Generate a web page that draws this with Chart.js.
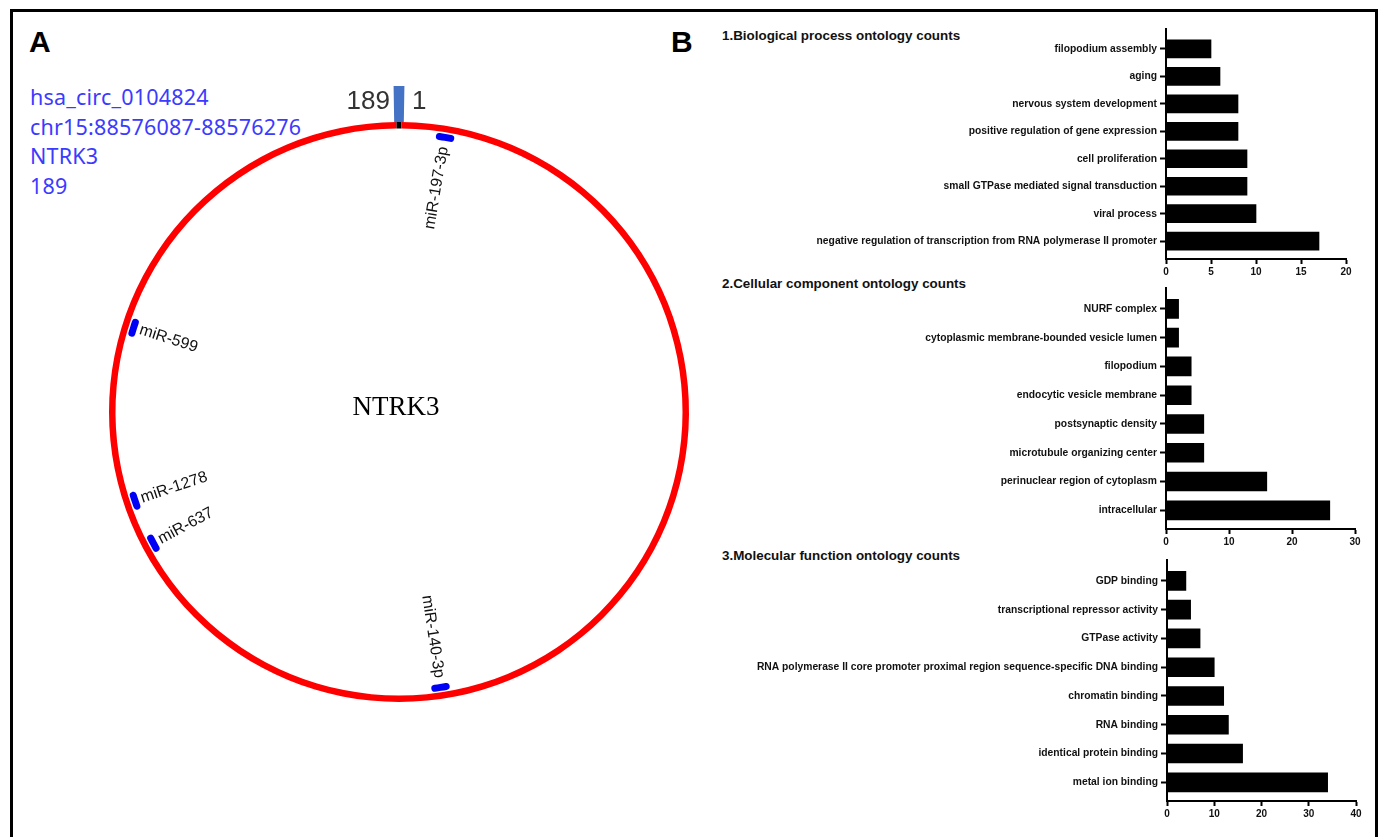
<!DOCTYPE html>
<html>
<head>
<meta charset="utf-8">
<script src="https://cdn.jsdelivr.net/npm/chart.js@4.4.1/dist/chart.umd.min.js"></script>
<style>
  html, body { margin: 0; padding: 0; background: #fff; }
  body { width: 1385px; height: 837px; position: relative; overflow: hidden;
         font-family: "Liberation Sans", Arial, sans-serif; }
  .frame { position: absolute; left: 10px; top: 9px; width: 1362px; height: 900px;
           border: 3px solid #000; }
  .tag { position: absolute; font: bold 30px "Liberation Sans", Arial, sans-serif;
         line-height: 30px; color: #000; }
  .info { position: absolute; left: 30px; top: 82px; font: 21.5px "Noto Sans", sans-serif;
          line-height: 29.7px; color: #3b3bff; white-space: pre; letter-spacing: 0.2px; }
  .go-title { position: absolute; left: 722px; font: bold 13.4px "Liberation Sans", Arial, sans-serif;
              line-height: 13px; color: #111; white-space: nowrap; }
  canvas { position: absolute; }
</style>
</head>
<body>
<div class="frame"></div>
<div class="tag" style="left:29px;top:27px">A</div>
<div class="tag" style="left:671px;top:27px">B</div>
<div class="info" id="info"></div>
<div class="go-title" id="t1" style="top:29px"></div>
<div class="go-title" id="t2" style="top:277px"></div>
<div class="go-title" id="t3" style="top:549px"></div>

<canvas id="circ" width="680" height="680" style="left:59px;top:72px"></canvas>
<canvas id="bp" width="670" height="265" style="left:700px;top:20px"></canvas>
<canvas id="cc" width="670" height="276" style="left:700px;top:279px"></canvas>
<canvas id="mf" width="670" height="276" style="left:700px;top:551px"></canvas>

<script>
// ---- circRNA and its miRNA binding sites ----
const circInfo = ['hsa_circ_0104824', 'chr15:88576087-88576276', 'NTRK3', '189'];
const circGene = 'NTRK3';
const circLength = 189;
const junctionLabels = ['189', '1'];
const mirnaNames = ['miR-197-3p', 'miR-140-3p', 'miR-637', 'miR-1278', 'miR-599'];
const mirnaSites = [5, 90, 127, 132, 151];

// ---- GO ontology counts ----
const goTitles = ['1.Biological process ontology counts',
                  '2.Cellular component ontology counts',
                  '3.Molecular function ontology counts'];
const bpTerms = ['filopodium assembly', 'aging', 'nervous system development',
  'positive regulation of gene expression', 'cell proliferation',
  'small GTPase mediated signal transduction', 'viral process',
  'negative regulation of transcription from RNA polymerase II promoter'];
const bpCounts = [5, 6, 8, 8, 9, 9, 10, 17];
const bpTicks = [0, 5, 10, 15, 20];

const ccTerms = ['NURF complex', 'cytoplasmic membrane-bounded vesicle lumen', 'filopodium',
  'endocytic vesicle membrane', 'postsynaptic density', 'microtubule organizing center',
  'perinuclear region of cytoplasm', 'intracellular'];
const ccCounts = [2, 2, 4, 4, 6, 6, 16, 26];
const ccTicks = [0, 10, 20, 30];

const mfTerms = ['GDP binding', 'transcriptional repressor activity', 'GTPase activity',
  'RNA polymerase II core promoter proximal region sequence-specific DNA binding',
  'chromatin binding', 'RNA binding', 'identical protein binding', 'metal ion binding'];
const mfCounts = [4, 5, 7, 10, 12, 13, 16, 34];
const mfTicks = [0, 10, 20, 30, 40];

// ---- static text ----
document.getElementById('info').textContent = circInfo.join('\n');
['t1', 't2', 't3'].forEach((id, i) => { document.getElementById(id).textContent = goTitles[i]; });

// ---- circular map (doughnut rings, outermost first) ----
const CLEAR = 'rgba(0,0,0,0)';
const JUNCTION_SPAN = 0.5;   // nt drawn on each side of the back-splice marker
const TICK_SPAN = 0.26;      // nt drawn on each side of the black junction tick
const SITE_SPAN = 2;         // nt drawn for each binding-site mark

const junctionData = [JUNCTION_SPAN, circLength - 2 * JUNCTION_SPAN, JUNCTION_SPAN];
const junctionColors = ['#4472c4', CLEAR, '#4472c4'];
const ringData = [TICK_SPAN, circLength - 2 * TICK_SPAN, TICK_SPAN];
const ringColors = ['#000', '#ff0000', '#000'];

const siteOrder = mirnaSites.map((p, i) => i).sort((a, b) => mirnaSites[a] - mirnaSites[b]);
const markData = [], markColors = [], markSite = [];
let cursor = 0;
siteOrder.forEach(i => {
  const start = mirnaSites[i] - SITE_SPAN / 2;
  markData.push(start - cursor); markColors.push(CLEAR); markSite.push(-1);
  markData.push(SITE_SPAN); markColors.push('#0000f5'); markSite.push(i);
  cursor = start + SITE_SPAN;
});
markData.push(circLength - cursor); markColors.push(CLEAR); markSite.push(-1);

const circLabels = {
  id: 'circLabels',
  afterDatasetsDraw(chart) {
    const ctx = chart.ctx;
    // binding-site names along the radius
    chart.getDatasetMeta(3).data.forEach((arc, k) => {
      const s = markSite[k];
      if (s < 0) return;
      const p = arc.getProps(['x', 'y', 'startAngle', 'endAngle', 'innerRadius']);
      const a = (p.startAngle + p.endAngle) / 2;
      ctx.save();
      ctx.font = '16px "Liberation Sans", Arial, sans-serif';
      ctx.fillStyle = '#111';
      ctx.textBaseline = 'middle';
      if (Math.cos(a) >= 0) {
        const r = p.innerRadius - 6;
        ctx.translate(p.x + r * Math.cos(a), p.y + r * Math.sin(a));
        ctx.rotate(a);
        ctx.textAlign = 'right';
      } else {
        const r = p.innerRadius - 3;
        ctx.translate(p.x + r * Math.cos(a), p.y + r * Math.sin(a));
        ctx.rotate(a + Math.PI);
        ctx.textAlign = 'left';
      }
      ctx.fillText(mirnaNames[s], 0, 0);
      ctx.restore();
    });

    // junction numbering either side of the back-splice marker
    const j = chart.getDatasetMeta(0).data[0].getProps(['x', 'y', 'startAngle', 'endAngle', 'outerRadius', 'innerRadius']);
    const half = (j.endAngle - j.startAngle) * (j.outerRadius + j.innerRadius) / 2;
    const base = j.y - j.outerRadius + 23;
    ctx.save();
    ctx.font = '26px "Liberation Sans", Arial, sans-serif';
    ctx.fillStyle = '#333';
    ctx.textBaseline = 'alphabetic';
    ctx.textAlign = 'right';
    ctx.fillText(junctionLabels[0], j.x - half - 4, base);
    ctx.textAlign = 'left';
    ctx.fillText(junctionLabels[1], j.x + half + 8, base);

    // host gene in the middle
    ctx.font = '27px "Liberation Serif", "Times New Roman", serif';
    ctx.fillStyle = '#000';
    ctx.textAlign = 'center';
    ctx.fillText(circGene, j.x - 3, j.y + 3);
    ctx.restore();
  }
};

new Chart(document.getElementById('circ'), {
  type: 'doughnut',
  data: {
    labels: markData.map((_, i) => String(i)),
    datasets: [
      { data: junctionData, backgroundColor: junctionColors, weight: 36 },
      { data: ringData, backgroundColor: ringColors, weight: 6.5 },
      { data: [circLength], backgroundColor: [CLEAR], weight: 1.5 },
      { data: markData, backgroundColor: markColors, weight: 7, borderRadius: 3.5 }
    ]
  },
  options: {
    responsive: false,
    animation: false,
    events: [],
    radius: 326,
    cutout: (275 / 326 * 100) + '%',
    elements: { arc: { borderWidth: 0, hoverOffset: 0 } },
    layout: { padding: 0 },
    plugins: { legend: { display: false }, tooltip: { enabled: false } }
  },
  plugins: [circLabels]
});

// ---- GO bar charts ----
const axisFont = { family: '"Liberation Sans", Arial, sans-serif', size: 10.3, weight: 'bold' };
const tickFont = { family: '"Liberation Sans", Arial, sans-serif', size: 10, weight: 'bold' };

function goChart(id, terms, counts, ticks, o) {
  return new Chart(document.getElementById(id), {
    type: 'bar',
    data: {
      datasets: [{
        data: counts.map((v, i) => ({ x: v, y: i })),
        backgroundColor: '#000',
        borderWidth: 0,
        barThickness: o.bar
      }]
    },
    options: {
      indexAxis: 'y',
      responsive: false,
      animation: false,
      events: [],
      layout: { padding: { top: 8, right: o.padRight, bottom: 0, left: 0 } },
      plugins: { legend: { display: false }, tooltip: { enabled: false } },
      scales: {
        x: {
          type: 'linear', position: 'bottom', offset: false,
          min: ticks[0], max: ticks[ticks.length - 1],
          afterBuildTicks: s => { s.ticks = ticks.map(v => ({ value: v })); },
          afterFit: s => { s.height = 26; },
          grid: { display: true, offset: false, drawOnChartArea: false, drawTicks: true,
                  tickLength: 5, tickWidth: 2, tickColor: '#000' },
          border: { display: true, color: '#000', width: 2 },
          ticks: { color: '#111', font: tickFont, padding: 2, maxRotation: 0, autoSkip: false }
        },
        y: {
          type: 'linear', position: 'left', reverse: true, offset: false,
          min: -0.72, max: terms.length - 1 + 0.65,
          afterBuildTicks: s => { s.ticks = terms.map((_, i) => ({ value: i })); },
          afterFit: s => { s.width = o.axisWidth; },
          grid: { display: true, offset: false, drawOnChartArea: false, drawTicks: true,
                  tickLength: 6, tickWidth: 2, tickColor: '#000' },
          border: { display: true, color: '#000', width: 2 },
          ticks: { color: '#111', font: axisFont, padding: 3, autoSkip: false,
                   callback: v => terms[v] }
        }
      }
    }
  });
}

goChart('bp', bpTerms, bpCounts, bpTicks, { bar: 18, padRight: 24, axisWidth: 466 });
goChart('cc', ccTerms, ccCounts, ccTicks, { bar: 19, padRight: 15, axisWidth: 466 });
goChart('mf', mfTerms, mfCounts, mfTicks, { bar: 19, padRight: 14, axisWidth: 467 });
</script>
</body>
</html>
